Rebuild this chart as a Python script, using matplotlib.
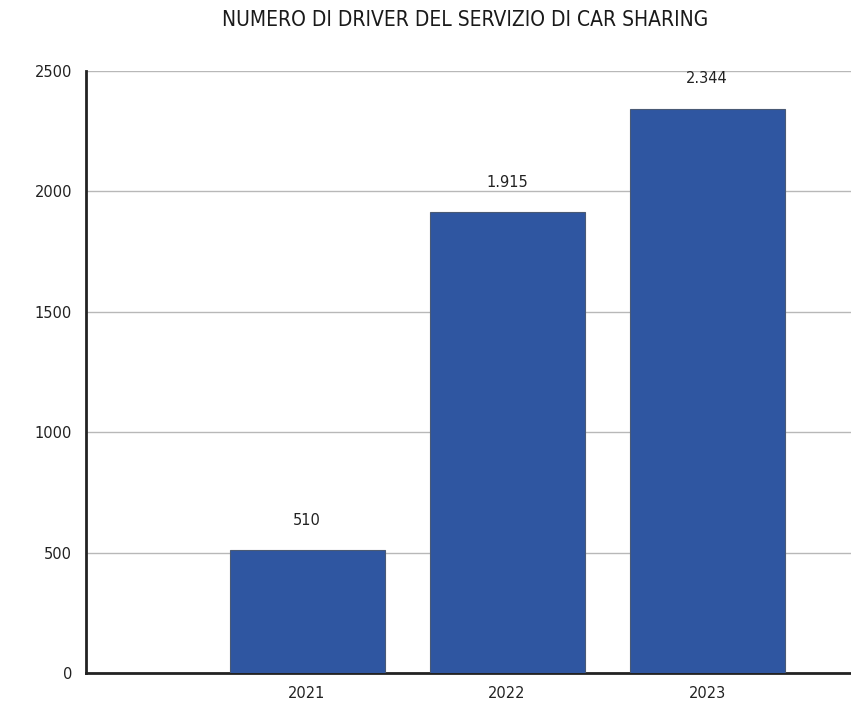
import matplotlib.pyplot as plt

years = ["2021", "2022", "2023"]
drivers = [510, 1915, 2344]
labels = ["510", "1.915", "2.344"]
yticks = [0, 500, 1000, 1500, 2000, 2500]

fig = plt.figure(figsize=(8.51, 7.04), dpi=100)
ax = fig.add_axes([86 / 851, 1 - 673 / 704, 1 - 86 / 851, 602 / 704])

x = [1, 2, 3]
bars = ax.bar(x, drivers, width=0.775, color="#2f56a1", edgecolor="#4a5a75", linewidth=0.8, zorder=3)

for b, lab in zip(bars, labels):
    ax.annotate(lab, (b.get_x() + b.get_width() / 2, b.get_height()),
                xytext=(0, 16), textcoords="offset points", ha="center", va="bottom",
                fontsize=10.5, color="#222222")

ax.set_xlim(-0.105, 3.72)
ax.set_ylim(0, 2500)
ax.set_xticks(x)
ax.set_xticklabels(years)
ax.set_yticks(yticks)
ax.tick_params(axis="both", length=0, labelsize=10.5, colors="#222222")
ax.tick_params(axis="y", pad=10)
ax.tick_params(axis="x", pad=9)

ax.grid(axis="y", color="#b8b8b8", linewidth=1, zorder=0)
for s in ["top", "right"]:
    ax.spines[s].set_visible(False)
ax.spines["left"].set_linewidth(2)
ax.spines["bottom"].set_linewidth(2)
ax.spines["left"].set_color("#222222")
ax.spines["bottom"].set_color("#222222")

fig.text(465 / 851, 1 - 20 / 704, "NUMERO DI DRIVER DEL SERVIZIO DI CAR SHARING",
         ha="center", va="center", fontsize=15, family="DejaVu Sans", fontstretch="condensed",
         color="#1a1a1a")

fig.savefig("out.png", dpi=100)
